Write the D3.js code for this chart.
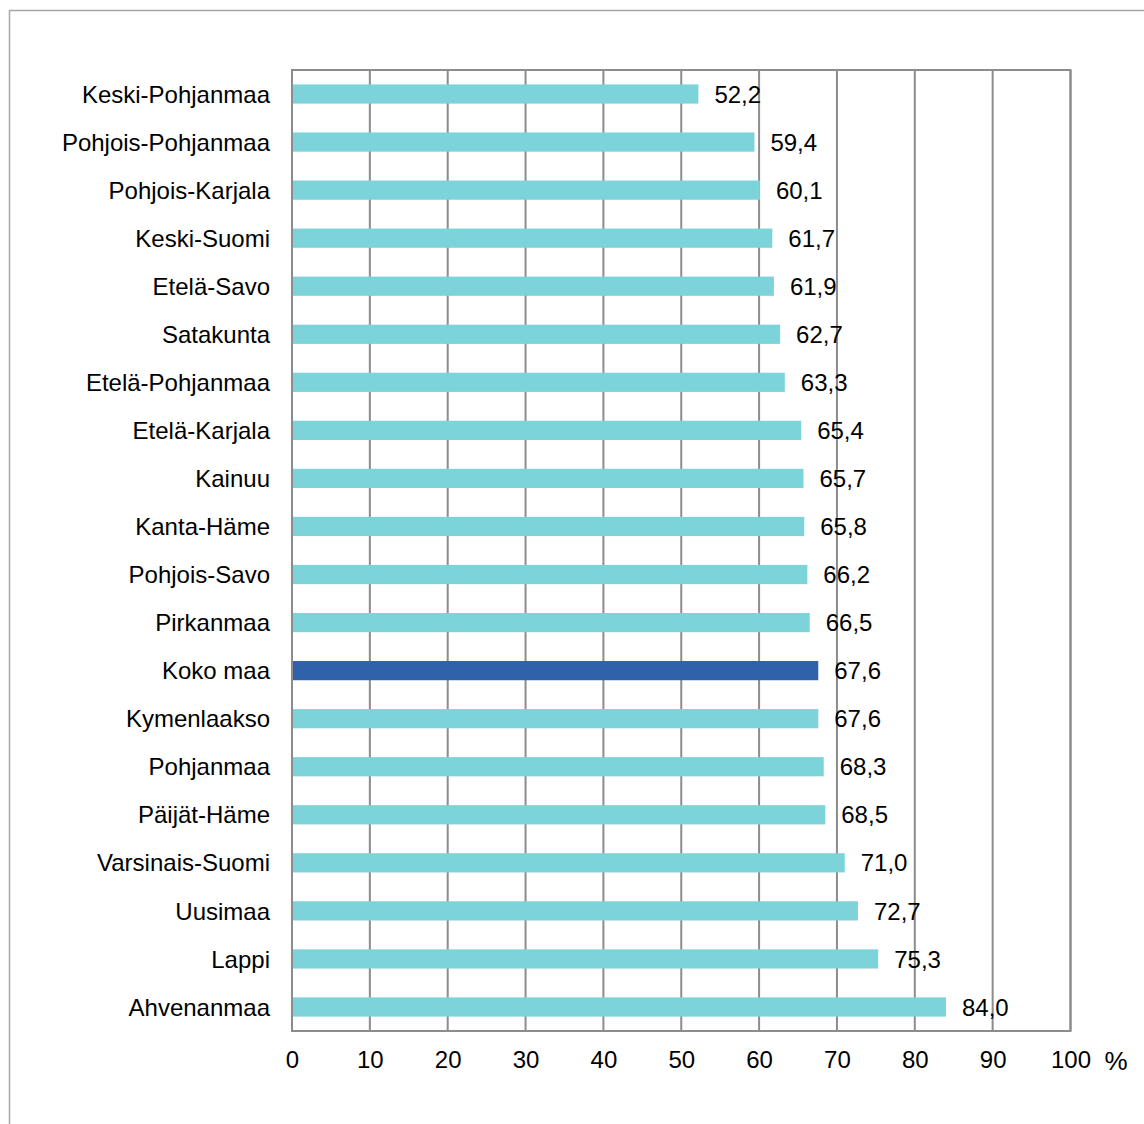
<!DOCTYPE html>
<html>
<head>
<meta charset="utf-8">
<script src="https://cdn.jsdelivr.net/npm/d3@7"></script>
<style>
  body { margin: 0; background: #fff; }
  text { font-family: "Liberation Sans", Arial, sans-serif; fill: #000; }
</style>
</head>
<body>
<div id="holder"></div>
<script>
const w = 1144;
const h = 1124;

// Data
const regions = ["Keski-Pohjanmaa", "Pohjois-Pohjanmaa", "Pohjois-Karjala", "Keski-Suomi", "Etelä-Savo",
    "Satakunta", "Etelä-Pohjanmaa", "Etelä-Karjala", "Kainuu", "Kanta-Häme", "Pohjois-Savo", "Pirkanmaa",
    "Koko maa", "Kymenlaakso", "Pohjanmaa", "Päijät-Häme", "Varsinais-Suomi", "Uusimaa", "Lappi", "Ahvenanmaa"];
const values = [52.2, 59.4, 60.1, 61.7, 61.9, 62.7, 63.3, 65.4, 65.7, 65.8, 66.2, 66.5,
    67.6, 67.6, 68.3, 68.5, 71.0, 72.7, 75.3, 84.0];
const ticks = [0, 10, 20, 30, 40, 50, 60, 70, 80, 90, 100];
const highlight = "Koko maa";

const plotLeft = 292, plotRight = 1070.5, plotTop = 70, plotBottom = 1031;
const fontSize = "24px";

const svg = d3.select("#holder")
    .append("svg")
    .attr("width", w)
    .attr("height", h)

// outer frame (runs past the picture on right and bottom)
svg.append("rect")
    .attr("x", 9.5).attr("y", 10.5)
    .attr("width", w + 20).attr("height", h + 20)
    .attr("fill", "none")
    .attr("stroke", "#a6a6a6")
    .attr("stroke-width", 1.5)

const x = d3.scaleLinear().domain([0, 100]).range([plotLeft, plotRight])
const y = d3.scaleBand().domain(regions).range([plotTop, plotBottom]).paddingInner(0.6).paddingOuter(0.3)

// grid lines
svg.append("g")
    .selectAll("line")
    .data(ticks)
    .join("line")
    .attr("x1", d => x(d)).attr("x2", d => x(d))
    .attr("y1", plotTop).attr("y2", plotBottom)
    .attr("stroke", "#8c8c8c")
    .attr("stroke-width", 2)

// plot frame
svg.append("rect")
    .attr("x", plotLeft).attr("y", plotTop)
    .attr("width", plotRight - plotLeft).attr("height", plotBottom - plotTop)
    .attr("fill", "none")
    .attr("stroke", "#8c8c8c")
    .attr("stroke-width", 2)

// bars
svg.append("g")
    .selectAll("rect")
    .data(regions)
    .join("rect")
    .attr("x", x(0) + 1)
    .attr("y", d => y(d))
    .attr("width", (d, i) => x(values[i]) - x(0) - 1)
    .attr("height", y.bandwidth())
    .attr("fill", d => d === highlight ? "#3061ab" : "#7dd3da")

// value labels
svg.append("g")
    .selectAll("text")
    .data(regions)
    .join("text")
    .attr("x", (d, i) => x(values[i]) + 16)
    .attr("y", d => y(d) + y.bandwidth() / 2)
    .attr("dy", "0.36em")
    .style("font-size", fontSize)
    .text((d, i) => values[i].toFixed(1).replace(".", ","))

// category labels
const yAxis = d3.axisLeft(y).tickSize(0).tickPadding(22)
svg.append("g")
    .attr("transform", `translate(${plotLeft},0)`)
    .call(yAxis)
    .call(g => g.select(".domain").remove())
    .call(g => g.selectAll("text")
        .attr("dy", "0.36em")
        .style("font-size", fontSize)
        .attr("font-family", null))

// x tick labels
const xAxis = d3.axisBottom(x).tickValues(ticks).tickSize(0).tickPadding(22)
svg.append("g")
    .attr("transform", `translate(0,${plotBottom})`)
    .call(xAxis)
    .call(g => g.select(".domain").remove())
    .call(g => g.selectAll("text")
        .attr("y", 37)
        .attr("dy", 0)
        .style("font-size", fontSize)
        .attr("font-family", null))

svg.append("text")
    .attr("x", 1116).attr("y", 1070)
    .attr("text-anchor", "middle")
    .style("font-size", "26px")
    .text("%")
</script>
</body>
</html>
